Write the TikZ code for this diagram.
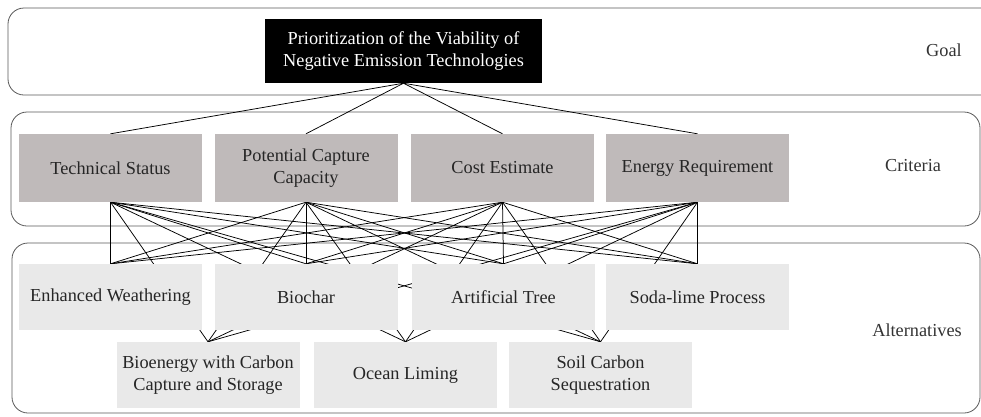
\documentclass[tikz,border=0pt]{standalone}
\usepackage{fontspec}
\setmainfont{Liberation Serif}
\definecolor{critgray}{RGB}{191,186,186}
\definecolor{altgray}{RGB}{233,233,233}
\pgfdeclarelayer{back}
\pgfsetlayers{back,main}

\begin{document}
\begin{tikzpicture}[x=1pt, y=-1pt, font=\fontsize{18.3}{22.5}\selectfont,
    crit/.style={fill=critgray, text=black!85, minimum width=183pt, minimum height=68pt, inner sep=0pt, align=center},
    alt/.style={crit, fill=altgray, minimum height=66pt},
    band/.style={draw=black!65, line width=0.8pt, rounded corners=16pt},
    link/.style={black, line width=0.75pt}]
  \useasboundingbox (0,0) rectangle (981,416);
  \node[fill=black, text=white, minimum width=277pt, minimum height=64pt, inner sep=0pt, align=center] (goal) at (403.5,51) {Prioritization of the Viability of\\Negative Emission Technologies};
  \node[crit] (ts) at (110.5,168) {Technical Status};
  \node[crit] (pc) at (306,168) {Potential Capture\\Capacity};
  \node[crit] (ce) at (502.5,168) {Cost Estimate};
  \node[crit] (er) at (697.5,168) {Energy Requirement};
  \node[alt] (ew) at (110.5,297) {Enhanced Weathering};
  \node[alt] (bc) at (306,297) {Biochar};
  \node[alt] (at) at (503.5,297) {Artificial Tree};
  \node[alt] (sl) at (697.5,297) {Soda-lime Process};
  \node[alt] (bccs) at (208,375) {Bioenergy with Carbon\\Capture and Storage};
  \node[alt] (ol) at (405.5,375) {Ocean Liming};
  \node[alt] (scs) at (600.5,375) {Soil Carbon\\Sequestration};
  \node[text=black!80] (goallbl) at (944,50) {Goal};
  \node[text=black!80] (critlbl) at (913,166) {Criteria};
  \node[text=black!80] (altlbl) at (917,330) {Alternatives};
  \begin{pgfonlayer}{back}
    \draw[band] (8,8) rectangle (1000,95);
    \draw[band] (11,112) rectangle (980,226);
    \draw[band] (12,243) rectangle (980,413);
    \foreach \c in {ts,pc,ce,er}{
      \draw[link] (goal.south) -- (\c.north);
      \foreach \a in {ew,bc,at,sl,bccs,ol,scs}
        \draw[link] (\c.south) -- (\a.north);
    }
  \end{pgfonlayer}
\end{tikzpicture}
\end{document}
